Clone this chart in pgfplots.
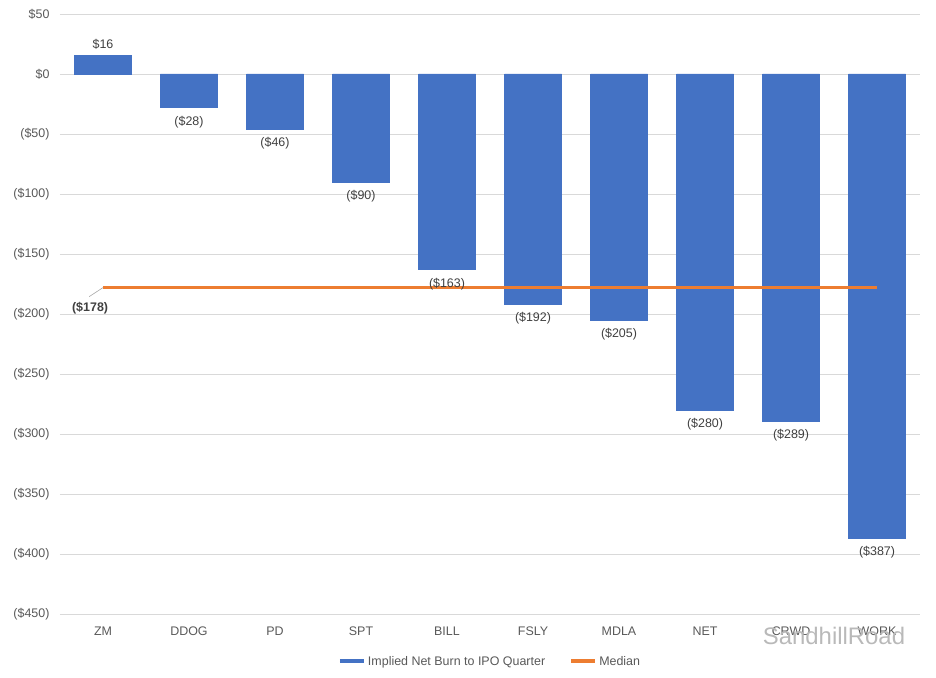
\documentclass[border=0pt]{standalone}
\usepackage{pgfplots}
\usepackage{pgfplotstable}
\pgfplotsset{compat=1.18}
\usepackage{fontspec}
\setmainfont{Liberation Sans}
\definecolor{barblue}{HTML}{4472C4}
\definecolor{medorange}{HTML}{ED7D31}
\definecolor{gridgray}{HTML}{D9D9D9}
\definecolor{ticktext}{HTML}{595959}
\definecolor{labtext}{HTML}{404040}
\pgfplotstableread{
x val lab
0 16 {\$16}
}\burnpos
\pgfplotstableread{
x val lab
1 -28 {(\$28)}
2 -46 {(\$46)}
3 -90 {(\$90)}
4 -163 {(\$163)}
5 -192 {(\$192)}
6 -205 {(\$205)}
7 -280 {(\$280)}
8 -289 {(\$289)}
9 -387 {(\$387)}
}\burnneg
\pgfplotstableread{
x val
0 -178
9 -178
}\median
\begin{document}
\begin{tikzpicture}
\begin{axis}[
  scale only axis, width=860bp, height=600bp,
  xmin=-0.5, xmax=9.5, ymin=-450, ymax=50,
  ytick={-450,-400,...,50},
  yticklabels={(\$450),(\$400),(\$350),(\$300),(\$250),(\$200),(\$150),(\$100),(\$50),\$0,\$50},
  xtick={0,...,9},
  xticklabels={ZM,DDOG,PD,SPT,BILL,FSLY,MDLA,NET,CRWD,WORK},
  ymajorgrids, grid style={gridgray, line width=0.8pt},
  axis line style={draw=none}, tick style={draw=none},
  tick label style={font=\fontsize{12.5}{14}\selectfont, text=ticktext},
  /pgf/number format/assume math mode=true,
  yticklabel style={xshift=-7bp},
  xticklabel style={yshift=-9bp},
  legend style={at={(0.5,-0.063)}, anchor=north, draw=none, legend columns=2,
     font=\fontsize{12.5}{14}\selectfont, text=ticktext,
     /tikz/every even column/.append style={column sep=22bp}},
  legend image code/.code={\draw[#1, line width=4bp] (0cm,0cm) -- (0.85cm,0cm);},
  clip=false,
]
\addplot[ybar, bar width=57bp, fill=barblue, draw=barblue, forget plot,
  point meta=explicit symbolic,
  nodes near coords,
  nodes near coords style={font=\fontsize{12.5}{14}\selectfont, text=labtext, anchor=south, inner sep=3bp, yshift=2bp},
  ] table[x=x, y=val, meta=lab] {\burnpos};
\addplot[ybar, bar width=57bp, fill=barblue, draw=barblue,
  point meta=explicit symbolic,
  nodes near coords,
  nodes near coords style={font=\fontsize{12.5}{14}\selectfont, text=labtext, anchor=north, inner sep=3bp, yshift=-5bp},
  ] table[x=x, y=val, meta=lab] {\burnneg};
\addlegendentry{Implied Net Burn to IPO Quarter}
\addplot[medorange, line width=2.4bp, sharp plot] table[x=x, y=val] {\median};
\addlegendentry{Median}
\draw[gray!70, line width=0.6pt] (axis cs:0,-178) -- (axis cs:-0.16,-185.5);
\node[font=\bfseries\fontsize{12.5}{14}\selectfont, text=labtext, anchor=north] at (axis cs:-0.15,-187) {(\$178)};
\node[font=\fontsize{24}{28}\selectfont, text=gray!55, anchor=center] at (axis cs:8.5,-468) {SandhillRoad};
\end{axis}
\path (current axis.south west) ++(-60bp,-64bp);
\path (current axis.north east) ++(16bp,14bp);
\end{tikzpicture}
\end{document}
